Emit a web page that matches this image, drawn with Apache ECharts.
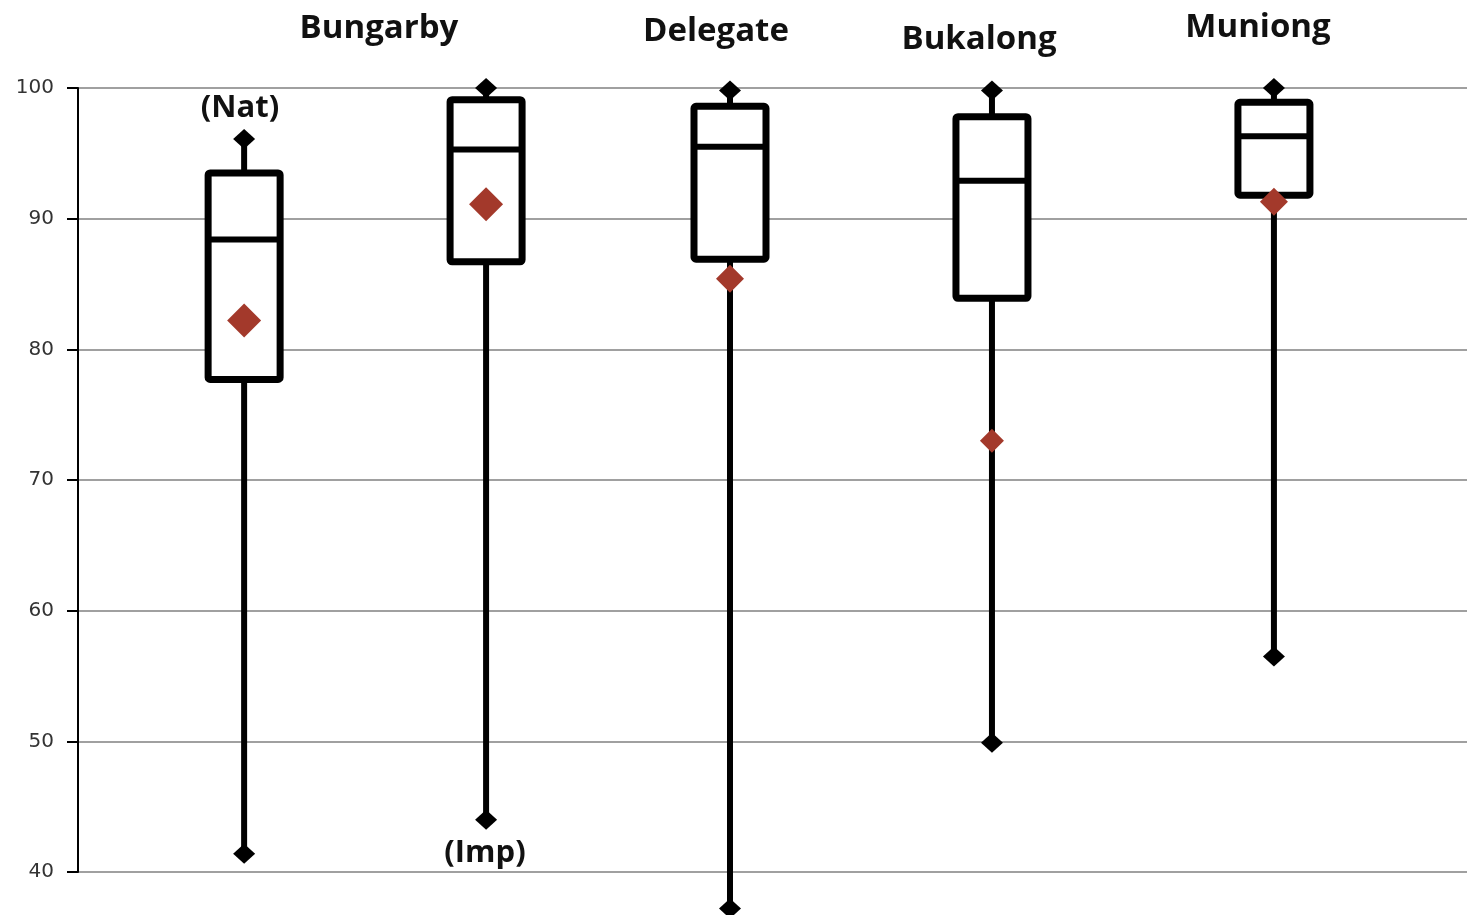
<!DOCTYPE html>
<html>
<head>
<meta charset="utf-8">
<script src="https://cdn.jsdelivr.net/npm/echarts@6/dist/echarts.min.js"></script>
<style>
  html, body { margin: 0; padding: 0; background: #fff; }
  #chart { width: 1467px; height: 915px; }
</style>
</head>
<body>
<div id="chart"></div>
<script>
// ---- Data ----
const groups = ['Bungarby (Nat)', 'Bungarby (Imp)', 'Delegate', 'Bukalong', 'Muniong'];
const groupX = [0.598, 1.469, 2.347, 3.29, 4.305];
const whiskerLow = [41.4, 44.0, 37.2, 49.9, 56.5];
const q1 = [77.7, 86.7, 86.9, 83.9, 91.8];
const median = [88.4, 95.3, 95.5, 92.9, 96.3];
const q3 = [93.5, 99.1, 98.6, 97.8, 98.9];
const whiskerHigh = [96.1, 100, 99.8, 99.8, 100];
const mean = [82.2, 91.1, 85.4, 73.0, 91.3];
const yTicks = [40, 50, 60, 70, 80, 90, 100];

// ---- Styles (not data) ----
const meanSize = [34, 34, 28, 24, 28];
const BOX_W = 72;

const boxData = groups.map((g, i) => [groupX[i], whiskerLow[i], q1[i], median[i], q3[i], whiskerHigh[i]]);
const endData = [];
groups.forEach((g, i) => {
  endData.push([groupX[i], whiskerLow[i]]);
  endData.push([groupX[i], whiskerHigh[i]]);
});
const meanData = groups.map((g, i) => ({ value: [groupX[i], mean[i]], symbolSize: meanSize[i] }));

function renderItem(params, api) {
  const x = api.value(0);
  const low = api.coord([x, api.value(1)]);
  const q1p = api.coord([x, api.value(2)]);
  const medp = api.coord([x, api.value(3)]);
  const q3p = api.coord([x, api.value(4)]);
  const high = api.coord([x, api.value(5)]);
  const cx = q1p[0];
  return {
    type: 'group',
    children: [
      { type: 'line', shape: { x1: cx, y1: q1p[1], x2: cx, y2: low[1] }, style: { stroke: '#000', lineWidth: 6 } },
      { type: 'line', shape: { x1: cx, y1: q3p[1], x2: cx, y2: high[1] }, style: { stroke: '#000', lineWidth: 6 } },
      { type: 'rect', shape: { x: cx - BOX_W / 2, y: q3p[1], width: BOX_W, height: q1p[1] - q3p[1], r: 2 },
        style: { fill: '#fff', stroke: '#000', lineWidth: 7 } },
      { type: 'line', shape: { x1: cx - BOX_W / 2, y1: medp[1], x2: cx + BOX_W / 2, y2: medp[1] },
        style: { stroke: '#000', lineWidth: 6 } }
    ]
  };
}

const titleFont = { fontFamily: 'Open Sans', fontWeight: 'bold', fill: '#111' };

const chart = echarts.init(document.getElementById('chart'));
chart.setOption({
  animation: false,
  backgroundColor: '#fff',
  grid: { left: 78, right: 0, top: 88, bottom: 43, containLabel: false },
  xAxis: { type: 'value', min: 0, max: 5, show: false },
  yAxis: {
    type: 'value', min: yTicks[0], max: yTicks[yTicks.length - 1], interval: 10,
    axisLine: { show: true, lineStyle: { color: '#000', width: 2 } },
    axisTick: { show: true, length: 11, lineStyle: { color: '#000', width: 2 } },
    axisLabel: { color: '#333', fontSize: 20, fontFamily: 'DejaVu Sans', margin: 24 },
    splitLine: { show: true, lineStyle: { color: '#a0a0a0', width: 2 } }
  },
  series: [
    { type: 'custom', renderItem: renderItem, data: boxData, clip: false, z: 2,
      encode: { x: 0, y: [1, 2, 3, 4, 5] } },
    { type: 'scatter', data: endData, symbol: 'diamond', symbolSize: [22, 20], clip: false, z: 3,
      itemStyle: { color: '#000', opacity: 1 } },
    { type: 'scatter', data: meanData, symbol: 'diamond', clip: false, z: 4,
      itemStyle: { color: '#a3392b', opacity: 1 } }
  ],
  graphic: [
    { type: 'text', x: 379, y: 29, style: Object.assign({ text: 'Bungarby', fontSize: 33, align: 'center', verticalAlign: 'middle' }, titleFont) },
    { type: 'text', x: 716, y: 32, style: Object.assign({ text: 'Delegate', fontSize: 33, align: 'center', verticalAlign: 'middle' }, titleFont) },
    { type: 'text', x: 979, y: 40, style: Object.assign({ text: 'Bukalong', fontSize: 33, align: 'center', verticalAlign: 'middle' }, titleFont) },
    { type: 'text', x: 1258, y: 28, style: Object.assign({ text: 'Muniong', fontSize: 33, align: 'center', verticalAlign: 'middle' }, titleFont) },
    { type: 'text', x: 240, y: 108, style: Object.assign({ text: '(Nat)', fontSize: 31, align: 'center', verticalAlign: 'middle' }, titleFont) },
    { type: 'text', x: 485, y: 853, style: Object.assign({ text: '(Imp)', fontSize: 31, align: 'center', verticalAlign: 'middle' }, titleFont) }
  ]
});
</script>
</body>
</html>
